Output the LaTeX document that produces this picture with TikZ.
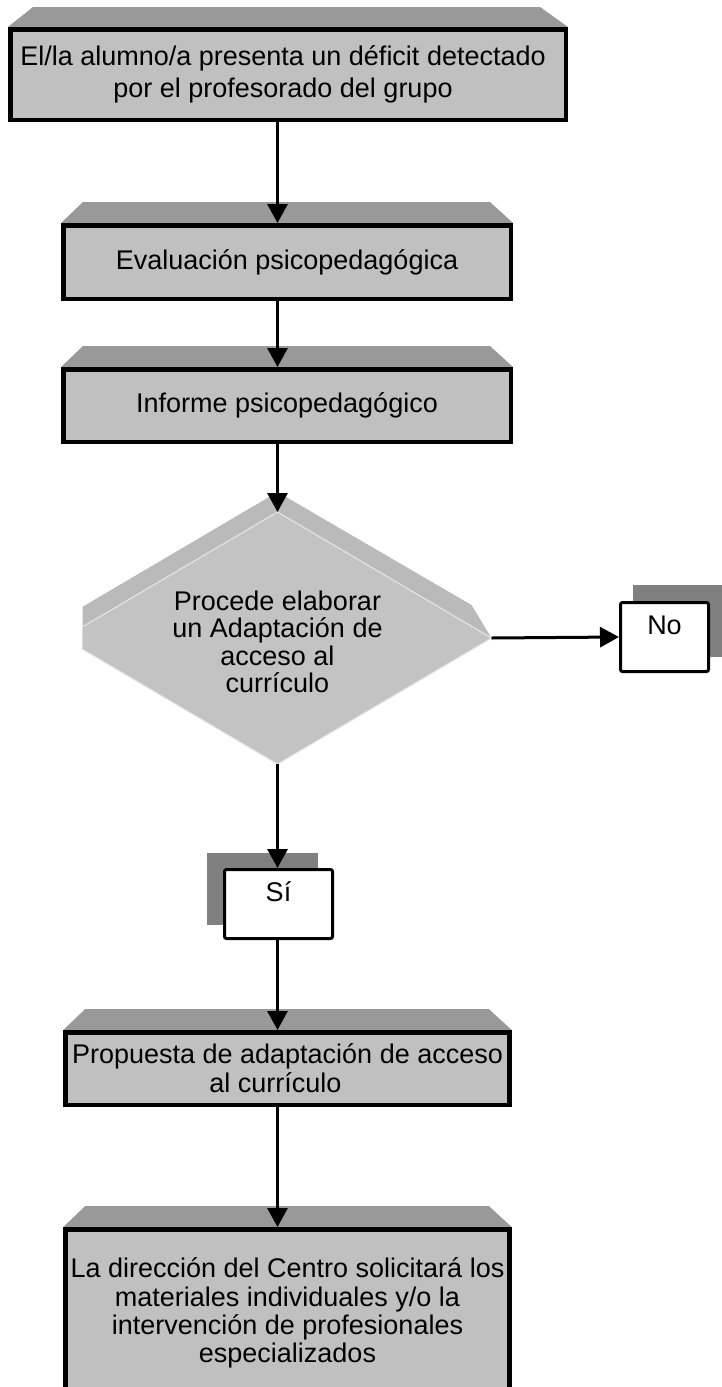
\documentclass[tikz,border=0pt]{standalone}
\usepackage{fontspec}
\setmainfont{Liberation Sans}
\usetikzlibrary{arrows.meta,shapes.geometric,calc,backgrounds}
\definecolor{boxgray}{HTML}{C0C0C0}
\definecolor{bevelgray}{HTML}{999999}
\definecolor{shadowgray}{HTML}{808080}
\definecolor{diaface}{HTML}{C3C3C3}
\definecolor{diabevel}{HTML}{BABABA}
\definecolor{diaedge}{HTML}{E2E2E2}
\begin{document}
\begin{tikzpicture}[x=1pt,y=-1pt,
  procbox/.style={draw=black, line width=4.5pt, fill=boxgray, align=center,
    inner sep=0pt, font=\fontsize{27}{29}\selectfont},
  answerbox/.style={draw=black, line width=3pt, fill=white, rounded corners=2pt,
    inner sep=0pt, text height=19.3pt, text depth=25.3pt,
    font=\fontsize{27}{29}\selectfont},
  decision/.style={shape=diamond, aspect=1.7, inner sep=0pt, outer sep=0pt,
    align=center, font=\fontsize{27}{27.5}\selectfont},
  arr/.style={line width=3pt, -{Triangle[length=19pt,width=20pt]}},
  bevel/.style={fill=bevelgray},
  shadow/.style={fill=shadowgray}]
\useasboundingbox (0,0) rectangle (722,1387);
\clip (0,0) rectangle (722,1387);

% process boxes
\node[procbox, minimum width=555.5pt, minimum height=90.5pt,
  font=\fontsize{27}{32}\selectfont] (b1) at (288,74.5)
  {El/la alumno/a presenta un déficit detectado\hspace*{10pt}\\por el profesorado del grupo\hspace*{10pt}};
\node[procbox, minimum width=447.5pt, minimum height=73.5pt] (b2) at (287,262)
  {Evaluación psicopedagógica};
\node[procbox, minimum width=447.5pt, minimum height=72.5pt] (b3) at (287,405.5)
  {Informe psicopedagógico};

% decision
\node[decision, minimum width=428pt, minimum height=252pt] (dia) at (277.5,638)
  {\rule{0pt}{27pt}Procede elaborar\\un Adaptación de\\acceso al\\currículo};

% answers
\node[answerbox, minimum width=88pt, minimum height=69pt] (no) at (664.5,637) {No};
\node[answerbox, minimum width=108pt, minimum height=69pt] (si) at (278.5,904) {Sí};

\node[procbox, minimum width=444pt, minimum height=72.5pt] (b4) at (287.5,1068.5)
  {Propuesta de adaptación de acceso\\al currículo\hspace*{24pt}};
\node[procbox, minimum width=444pt, minimum height=167.5pt,
  font=\fontsize{27}{28.3}\selectfont] (b5) at (287.5,1313)
  {La dirección del Centro solicitará los\\materiales individuales y/o la\\intervención de profesionales\\especializados};

\begin{scope}[on background layer]
  % bevelled tops of the process boxes
  \fill[bevel] (b1.north west) -- ++(25,-20) -- ($(b1.north east)+(-28,-20)$) -- (b1.north east) -- cycle;
  \foreach \b in {b2,b3,b4,b5}
    \fill[bevel] (\b.north west) -- ++(22,-21) -- ($(\b.north east)+(-23,-21)$) -- (\b.north east) -- cycle;

  % raised diamond: rim, face and light edges
  \coordinate (dlo) at ($(dia.west)!0.0888!(dia.south)$);
  \coordinate (dup) at ($(dia.west)!0.0888!(dia.north)$);
  \fill[diabevel] ($(dia.north)+(0,-20)$) -- ($(dia.east)+(-20,-33)$) -- (dia.east)
    -- (dia.south) -- (dlo) -- ($(dup)+(0,-20)$) -- cycle;
  \fill[diaface] (dia.north) -- (dia.east) -- (dia.south) -- (dlo) -- (dup) -- cycle;
  \draw[diaedge, line width=1.2pt] (dup) -- (dia.north) -- (dia.east);
  \draw[diaedge, line width=1pt] (dia.east) -- (dia.south) -- (dlo);

  % drop shadows of the answer boxes
  \fill[shadow] ($(no.south west)+(14,-16)$) rectangle ($(no.north east)+(14,-16)$);
  \fill[shadow] ($(si.south west)+(-16,-15)$) rectangle ($(si.north east)+(-16,-15)$);
\end{scope}

% connectors
\draw[arr] (b1.south -| dia.north) -- (b2.north -| dia.north);
\draw[arr] (b2.south -| dia.north) -- (b3.north -| dia.north);
\draw[arr] (b3.south -| dia.north) -- (dia.north);
\draw[arr] (dia.east) -- (no.west);
\draw[arr] (dia.south) -- (si.north -| dia.south);
\draw[arr] (si.south -| dia.south) -- (b4.north -| dia.south);
\draw[arr] (b4.south -| dia.south) -- (b5.north -| dia.south);
\end{tikzpicture}
\end{document}
